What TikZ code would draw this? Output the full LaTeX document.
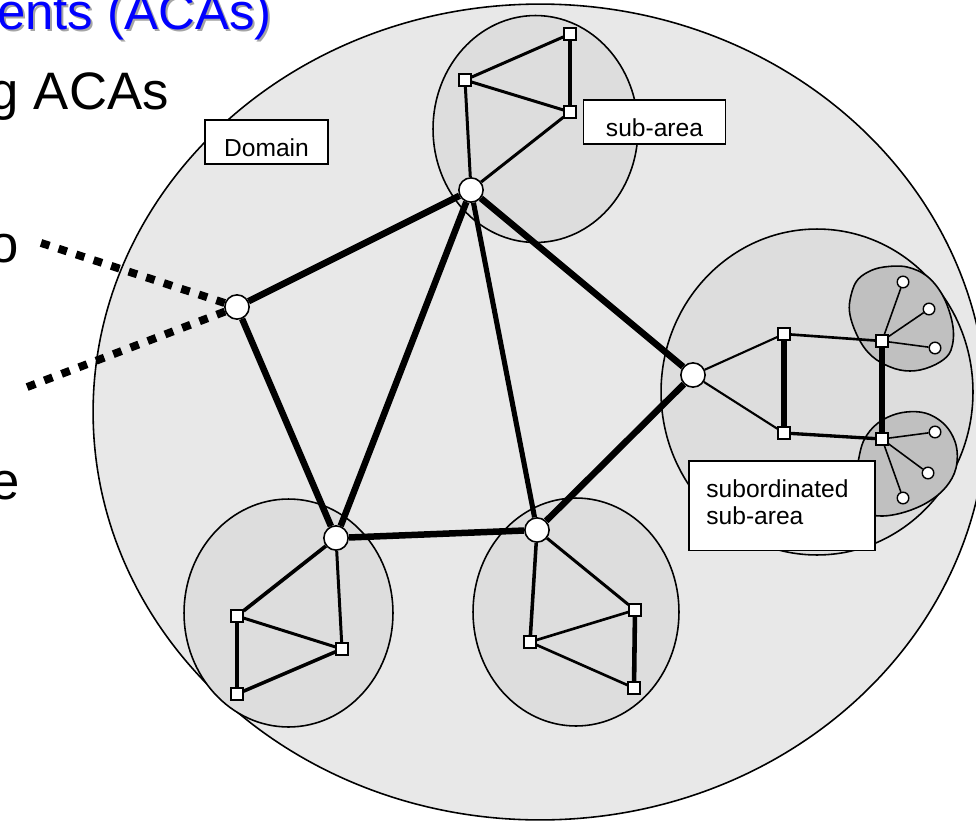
\documentclass[tikz,border=0pt]{standalone}
\usepackage{fontspec}
\setmainfont{Liberation Sans}
\usepackage{tikz}
\usetikzlibrary{
    backgrounds,
    positioning
}
\definecolor{domainfill}{RGB}{232,232,232}
\definecolor{areafill}{RGB}{221,221,221}
\definecolor{blobfill}{RGB}{192,192,192}
\definecolor{titleblue}{RGB}{0,0,255}
\definecolor{shadowgray}{RGB}{165,165,165}

\begin{document}
\begin{tikzpicture}[
    x=0.02cm, y=-0.02cm,
    hub/.style={circle, draw=black, fill=white, line width=0.9pt, minimum size=13.8pt, inner sep=0pt},
    site/.style={rectangle, draw=black, fill=white, line width=0.9pt, minimum size=6.6pt, inner sep=0pt},
    leaf/.style={circle, draw=black, fill=white, line width=0.8pt, minimum size=6.6pt, inner sep=0pt},
    area/.style={draw=black, fill=areafill, line width=0.9pt},
    blob/.style={draw=black, fill=blobfill, line width=0.9pt},
    trunk/.style={line width=3.7pt},
    link/.style={line width=1.7pt},
    bar/.style={line width=2.6pt},
    spoke/.style={line width=0.9pt},
    probe/.style={line width=4.5pt, dash pattern=on 5pt off 5.5pt},
    labelbox/.style={draw=black, fill=white, line width=0.9pt, inner sep=0pt,
        text height=21pt, text depth=4pt, font=\fontsize{14}{15.3}\selectfont},
    bigtext/.style={anchor=base east, inner sep=0pt, font=\fontsize{30}{36}\selectfont}
]
\clip (0,0) rectangle (976,821);

% Slide text cut by the frame
\node[bigtext, text=shadowgray, font=\fontsize{29}{34}\selectfont] (title-shadow) at (274,32) {ents (ACAs)};
\node[bigtext, text=titleblue, font=\fontsize{29}{34}\selectfont] (title) at (272,30) {ents (ACAs)};
\node[bigtext] (line-1) at (169,110) {g ACAs};
\node[bigtext] (line-2) at (19,262) {o};
\node[bigtext] (line-3) at (20,499) {e};

% Domain nodes
\node[hub] (hub-1) at (237,307) {};
\node[hub] (hub-2) at (471,190) {};
\node[hub] (hub-3) at (693,375) {};
\node[hub] (hub-4) at (336,538) {};
\node[hub] (hub-5) at (537,530) {};

% Sub-area nodes
\node[site] (top-1) at (570,34) {};
\node[site] (top-2) at (465,80) {};
\node[site] (top-3) at (570,112) {};
\node[site] (left-1) at (237,616) {};
\node[site] (left-2) at (342,649) {};
\node[site] (left-3) at (237,694) {};
\node[site] (right-1) at (530,642) {};
\node[site] (right-2) at (635,610) {};
\node[site] (right-3) at (634,688) {};
\node[site] (sub-1) at (784,334) {};
\node[site] (sub-2) at (784,433) {};
\node[site] (sub-3) at (882,341) {};
\node[site] (sub-4) at (882,439) {};

% Subordinated leaves
\foreach \i/\x/\y in {1/903/282, 2/929/309, 3/935/348, 4/935/432, 5/928/473, 6/903/498} {
    \node[leaf] (leaf-\i) at (\x,\y) {};
}

\coordinate (probe-up) at (32,240);
\coordinate (probe-low) at (22,389);

\begin{scope}[on background layer]
    % Domain and sub-areas
    \draw[fill=domainfill, line width=0.9pt] (540,412) ellipse [x radius=8.94cm, y radius=8.16cm];
    \draw[area] (535.5,129) ellipse [x radius=2.05cm, y radius=2.27cm];
    \draw[area] (288.5,613) ellipse [x radius=2.09cm, y radius=2.28cm];
    \draw[area] (576,612) ellipse [x radius=2.06cm, y radius=2.28cm];
    \draw[area] (817,392) ellipse [x radius=3.12cm, y radius=3.26cm];

    % Subordinated sub-areas
    \draw[blob] plot[smooth cycle, tension=0.6] coordinates {(850,300) (856,282) (868,272) (884,267) (907,267)
        (928,277) (944,298) (953,327) (951,350) (940,362) (920,370) (900,370) (880,362) (866,350) (856,333) (850,315)};
    \draw[blob] plot[smooth cycle, tension=0.6] coordinates {(858,462) (864,440) (878,423) (900,413) (925,413)
        (945,425) (956,445) (956,468) (946,487) (928,502) (905,512) (882,516) (866,512) (858,495) (855,478)};

    % Dotted probes
    \draw[probe] (hub-1) -- (probe-up);
    \draw[probe] (hub-1) -- (probe-low);

    % Domain links
    \draw[trunk] (hub-1) -- (hub-2);
    \draw[trunk] (hub-1) -- (hub-4);
    \draw[trunk] (hub-2) -- (hub-4);
    \draw[trunk, line width=2.9pt] (hub-2) -- (hub-5);
    \draw[trunk] (hub-2) -- (hub-3);
    \draw[trunk] (hub-3) -- (hub-5);
    \draw[trunk] (hub-4) -- (hub-5);

    % Top sub-area
    \draw[link] (top-1) -- (top-2);
    \draw[link, line width=2pt] (top-1) -- (top-3);
    \draw[link] (top-2) -- (top-3);
    \draw[link] (top-2) -- (hub-2);
    \draw[link] (top-3) -- (hub-2);

    % Bottom-left sub-area
    \draw[link, line width=2.1pt] (hub-4) -- (left-1);
    \draw[link] (hub-4) -- (left-2);
    \draw[link] (left-1) -- (left-2);
    \draw[bar] (left-1) -- (left-3);
    \draw[link, line width=2pt] (left-3) -- (left-2);

    % Bottom-right sub-area
    \draw[link, line width=2pt] (hub-5) -- (right-1);
    \draw[link] (hub-5) -- (right-2);
    \draw[link, line width=1.5pt] (right-1) -- (right-2);
    \draw[link, line width=1.5pt] (right-1) -- (right-3);
    \draw[bar] (right-2) -- (right-3);

    % Right sub-area
    \draw[link, line width=1.2pt] (hub-3) -- (sub-1);
    \draw[link, line width=1.2pt] (hub-3) -- (sub-2);
    \draw[bar, line width=2.9pt] (sub-1) -- (sub-2);
    \draw[link, line width=1.5pt] (sub-1) -- (sub-3);
    \draw[link, line width=1.9pt] (sub-2) -- (sub-4);
    \draw[bar, line width=2.9pt] (sub-3) -- (sub-4);
    \foreach \i in {1,2,3} {
        \draw[spoke] (sub-3) -- (leaf-\i);
    }
    \foreach \i in {4,5,6} {
        \draw[spoke] (sub-4) -- (leaf-\i);
    }
\end{scope}

% Labels
\node[labelbox, minimum width=69.8pt] (domain-box) at (266.5,142) {Domain};
\node[labelbox, minimum width=81pt] (area-box) at (654.5,122) {sub-area};
\node[labelbox, anchor=north west, minimum width=106pt, minimum height=51pt] (sub-box) at (688,460) {};
\node[anchor=north west, inner sep=0pt, align=left, font=\fontsize{14}{15.3}\selectfont]
    (sub-text) at ([shift={(18,19)}]sub-box.north west) {subordinated\\sub-area};

\end{tikzpicture}
\end{document}
